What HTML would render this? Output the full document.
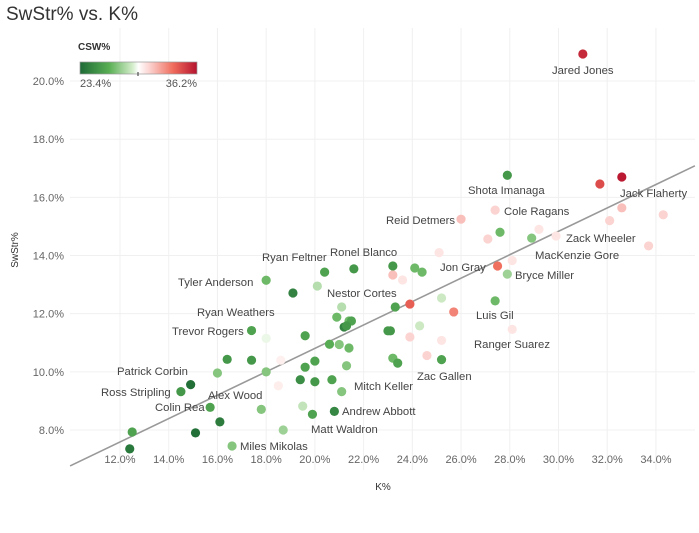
<!DOCTYPE html>
<html><head><meta charset="utf-8"><style>
body{margin:0;background:#fff;font-family:"Liberation Sans",sans-serif;}
svg text{font-family:"Liberation Sans",sans-serif;}
</style></head><body>
<svg id="chart" width="699" height="528" xmlns="http://www.w3.org/2000/svg">
<defs><linearGradient id="lg" x1="0" x2="1">
<stop offset="0" stop-color="#1e6b36"/><stop offset="0.25" stop-color="#5aaf55"/><stop offset="0.45" stop-color="#d4edcb"/><stop offset="0.5" stop-color="#ffffff"/><stop offset="0.6" stop-color="#fbd0cd"/><stop offset="0.8" stop-color="#ef6a5a"/><stop offset="1" stop-color="#b5122e"/></linearGradient></defs>
<text x="6" y="20" font-size="19" fill="#333">SwStr% vs. K%</text>
<g id="grid"></g><g id="axes"></g><g id="marks"></g><g id="labels"></g>
<g>
<text x="78" y="50" font-size="10" font-weight="bold" fill="#333">CSW%</text>
<rect x="80" y="62" width="117" height="12" fill="url(#lg)" stroke="#999" stroke-width="0.7"/>
<line x1="138" y1="72" x2="138" y2="76" stroke="#333"/>
<text x="80" y="87" font-size="11" fill="#555">23.4%</text>
<text x="197" y="87" font-size="11" fill="#555" text-anchor="end">36.2%</text>
</g>
<text x="383" y="490" font-size="10" fill="#333" text-anchor="middle">K%</text>
<text transform="translate(18,250) rotate(-90)" font-size="10" fill="#333" text-anchor="middle">SwStr%</text>
</svg>
<script>
const kPct=[31.0,32.6,31.7,27.9,32.6,32.1,34.3,33.7,27.4,26.0,27.6,27.1,29.2,28.9,29.9,25.1,23.2,24.1,23.2,24.4,23.6,27.5,28.1,27.9,25.2,27.4,23.3,23.9,25.7,21.4,23.0,24.3,23.9,25.2,28.1,21.4,23.2,23.4,24.6,25.2,21.6,20.4,18.0,20.1,19.1,21.1,20.9,21.5,21.2,21.3,23.1,17.4,19.6,18.0,21.0,20.6,16.4,17.4,20.0,19.6,21.3,16.0,18.0,18.6,19.4,20.0,20.7,18.5,14.9,14.5,21.1,15.7,17.8,19.5,19.9,20.8,16.1,15.1,12.5,12.4,18.7,16.6];
const swStr=[20.93,16.70,16.46,16.76,15.64,15.20,15.40,14.33,15.56,15.25,14.80,14.57,14.90,14.60,14.67,14.10,13.64,13.57,13.33,13.43,13.16,13.64,13.83,13.36,12.54,12.44,12.23,12.33,12.06,11.75,11.41,11.58,11.20,11.08,11.46,10.82,10.47,10.30,10.56,10.42,13.54,13.43,13.15,12.95,12.71,12.23,11.88,11.75,11.54,11.58,11.41,11.42,11.24,11.15,10.94,10.95,10.43,10.40,10.37,10.16,10.21,9.96,10.00,10.40,9.73,9.66,9.73,9.52,9.56,9.32,9.32,8.78,8.71,8.82,8.54,8.64,8.28,7.90,7.93,7.35,8.00,7.45];
const csw=[35.5,36,34.5,25.5,31.5,31,31,31,31,31.5,27,31,30.5,27.5,30.5,30.5,25.5,27,31.5,27,30.5,33.5,30.5,28,29,27,26,34,33,27,25.5,29,31,30.5,30.5,27,27,26,31,26,25.5,26,27,28.5,24.5,28.5,27,26,24.5,25.5,25.5,26,26,29.5,27.5,26.5,25.5,25.5,26,26,27.5,27.5,27.5,30.2,25,25.5,26,30.3,23.6,25.5,27.5,26,27.5,28.8,26,24.7,24.2,23.6,26,24,28,27.5];
const xTicks=[12,14,16,18,20,22,24,26,28,30,32,34];
const yTicks=[8,10,12,14,16,18,20];
const trend=[0.4024,2.76];
const NS="http://www.w3.org/2000/svg";
const X=v=>120+(v-12)*24.36, Y=v=>430-(v-8)*29.08;
function mk(t,a,p){const e=document.createElementNS(NS,t);for(const k in a)e.setAttribute(k,a[k]);document.getElementById(p).appendChild(e);return e;}
const stops=[[23.4,[30,107,54]],[26.6,[90,175,85]],[29.16,[212,237,203]],[29.8,[255,255,255]],[31.08,[251,208,205]],[33.64,[239,106,90]],[36.2,[181,18,46]]];
function col(v){for(let i=1;i<stops.length;i++){if(v<=stops[i][0]||i==stops.length-1){const a=stops[i-1],b=stops[i];let t=(v-a[0])/(b[0]-a[0]);t=Math.max(0,Math.min(1,t));return 'rgb('+a[1].map((c,j)=>Math.round(c+(b[1][j]-c)*t)).join(',')+')';}}}
xTicks.forEach(v=>{const g=mk('line',{x1:X(v),x2:X(v),y1:28,y2:470,stroke:'#f0f0f0'},'grid');

const t=mk('text',{x:X(v),y:463,'font-size':11,fill:'#666','text-anchor':'middle'},'axes');t.textContent=v.toFixed(1)+'%';

});
yTicks.forEach(v=>{const g=mk('line',{x1:70,x2:695,y1:Y(v),y2:Y(v),stroke:'#f0f0f0'},'grid');

const t=mk('text',{x:64,y:Y(v)+4,'font-size':11,fill:'#666','text-anchor':'end'},'axes');t.textContent=v.toFixed(1)+'%';

});
const x0=9.95,x1=35.6;
const tl=mk('line',{x1:X(x0),y1:Y(trend[0]*x0+trend[1]),x2:X(x1),y2:Y(trend[0]*x1+trend[1]),stroke:'#999','stroke-width':1.6},'marks');


kPct.forEach((k,i)=>{const c=mk('circle',{cx:X(k),cy:Y(swStr[i]),r:4.6,fill:col(csw[i])},'marks');

});
const labs=[["Jared Jones",552,74],["Shota Imanaga",468,194],["Jack Flaherty",620,197],["Reid Detmers",386,224],["Cole Ragans",504,215],["Zack Wheeler",566,242],["MacKenzie Gore",535,259],["Ryan Feltner",262,261],["Ronel Blanco",330,256],["Jon Gray",440,271],["Bryce Miller",515,279],["Tyler Anderson",178,286],["Nestor Cortes",327,297],["Ryan Weathers",197,316],["Luis Gil",476,319],["Trevor Rogers",172,335],["Ranger Suarez",474,348],["Patrick Corbin",117,375],["Zac Gallen",417,380],["Mitch Keller",354,390],["Ross Stripling",101,396],["Alex Wood",208,399],["Colin Rea",155,411],["Andrew Abbott",342,415],["Matt Waldron",311,433],["Miles Mikolas",240,450]];
labs.forEach(l=>{const t=mk('text',{x:l[1],y:l[2],'font-size':11.3,fill:'#444'},'labels');t.textContent=l[0];

});
</script>
</body></html>
